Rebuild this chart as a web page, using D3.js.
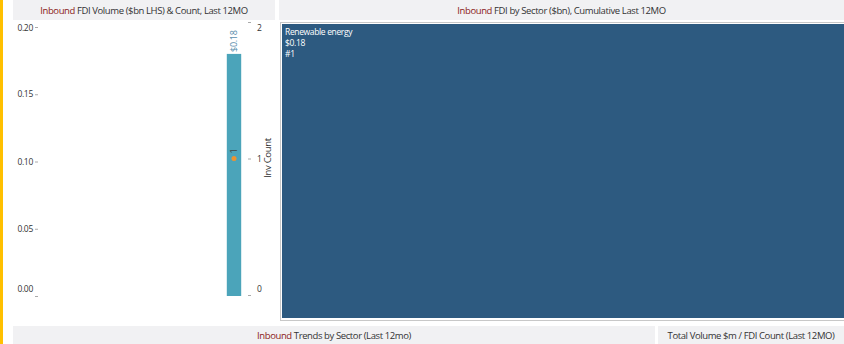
<!DOCTYPE html>
<html><head><meta charset="utf-8">
<script src="https://cdn.jsdelivr.net/npm/d3@7/dist/d3.min.js"></script>
<style>
body{margin:0;background:#fff;}
text{font-family:"Open Sans","DejaVu Sans",sans-serif;}
</style></head>
<body><svg id="c" width="844" height="344"></svg>
<script>
const periods = ["Last 12MO"];
const volumes = [0.18];
const counts = [1];
const volTicks = [0, 0.05, 0.10, 0.15, 0.20];
const countTicks = [0, 1, 2];
const sectors = ["Renewable energy"];
const sectorValues = [0.18];
const sectorRanks = [1];

const svg = d3.select("#c");

// left gold border
svg.append("rect").attr("x",0).attr("y",0).attr("width",3).attr("height",344).attr("fill","#FFC000");

function header(x,w,y,h,red,rest){
  const g = svg.append("g");
  g.append("rect").attr("x",x).attr("y",y).attr("width",w).attr("height",h).attr("fill","#f1f1f3");
  const t = g.append("text").attr("x",x+w/2).attr("y",y+h/2+3.5).attr("text-anchor","middle")
    .attr("font-size",9.5).attr("letter-spacing","-0.4px").attr("fill","#333");
  t.append("tspan").attr("fill","#8b1a1a").text(red);
  t.append("tspan").text(rest);
}
header(13,262,0,20,"Inbound"," FDI Volume ($bn LHS) & Count, Last 12MO");
header(279,565,0,20,"Inbound"," FDI by Sector ($bn), Cumulative Last 12MO");
header(13,642,326,18,"Inbound"," Trends by Sector (Last 12mo)");
header(658,186,326,18,"","Total Volume $m / FDI Count (Last 12MO)");

// left chart
const y = d3.scaleLinear().domain([0,0.20]).range([296,27]);
const yc = d3.scaleLinear().domain([0,2]).range([295,22]);
const x = d3.scaleBand().domain(periods).range([222,246]).padding(0.25);
const clampLab = v => Math.max(28, Math.min(289, v));

function styleAxis(g, scale){
  g.select(".domain").remove();
  g.selectAll("line").attr("stroke","#aaa");
  g.selectAll("text").attr("font-size",8.5).attr("letter-spacing","-0.3px").attr("fill","#333")
    .attr("y", d => clampLab(scale(d)) - scale(d));
}
const ax = svg.append("g").attr("transform","translate(38,0)")
  .call(d3.axisLeft(y).tickValues(volTicks).tickFormat(d3.format(".2f")).tickSize(3).tickPadding(2));
styleAxis(ax, y);

const axr = svg.append("g").attr("transform","translate(248,0)")
  .call(d3.axisRight(yc).tickValues(countTicks).tickFormat(d3.format("d")).tickSize(3).tickPadding(6));
styleAxis(axr, yc);

svg.append("text").attr("transform","translate(271,158) rotate(-90)").attr("text-anchor","middle")
  .attr("font-size",9.5).attr("letter-spacing","-0.3px").attr("fill","#333").text("Inv Count");

svg.selectAll(".bar").data(volumes).enter().append("rect")
  .attr("x",(d,i)=>x(periods[i])).attr("width",x.bandwidth())
  .attr("y",d=>y(d)).attr("height",d=>y(0)-y(d)).attr("fill","#4BA4BA");

svg.selectAll(".vl").data(volumes).enter().append("text")
  .attr("transform",(d,i)=>`translate(${x(periods[i])+x.bandwidth()/2+3},${y(d)-2}) rotate(-90)`)
  .attr("font-size",9).attr("letter-spacing","-0.3px").attr("fill","#5a8fae").text(d=>"$"+d.toFixed(2));

svg.selectAll(".pt").data(counts).enter().append("circle")
  .attr("cx",(d,i)=>x(periods[i])+x.bandwidth()/2).attr("cy",d=>yc(d)).attr("r",2.5).attr("fill","#F0922F");
svg.selectAll(".pl").data(counts).enter().append("text")
  .attr("transform",(d,i)=>`translate(${x(periods[i])+x.bandwidth()/2+3},${yc(d)-5}) rotate(-90)`)
  .attr("font-size",9).attr("fill","#444").text(d=>d);

// treemap
const root = d3.hierarchy({children: sectors.map((s,i)=>({name:s,value:sectorValues[i],rank:sectorRanks[i]}))})
  .sum(d=>d.value||0);
d3.treemap().size([562,294]).padding(0)(root);
svg.append("rect").attr("x",280.5).attr("y",22.5).attr("width",564).attr("height",298).attr("fill","none").attr("stroke","#c8c8c8");
const tg = svg.append("g").attr("transform","translate(282,24)");
const leaf = tg.selectAll("g").data(root.leaves()).enter().append("g").attr("transform",d=>`translate(${d.x0},${d.y0})`);
leaf.append("rect").attr("width",d=>d.x1-d.x0).attr("height",d=>d.y1-d.y0).attr("fill","#2D5A80");
const tl = (yy, f) => leaf.append("text").attr("x",3).attr("y",yy).attr("font-size",8.5)
  .attr("letter-spacing","-0.35px").attr("fill","#fff").text(f);
tl(11, d=>d.data.name);
tl(22, d=>"$"+d.data.value.toFixed(2));
tl(33, d=>"#"+d.data.rank);
</script></body></html>
